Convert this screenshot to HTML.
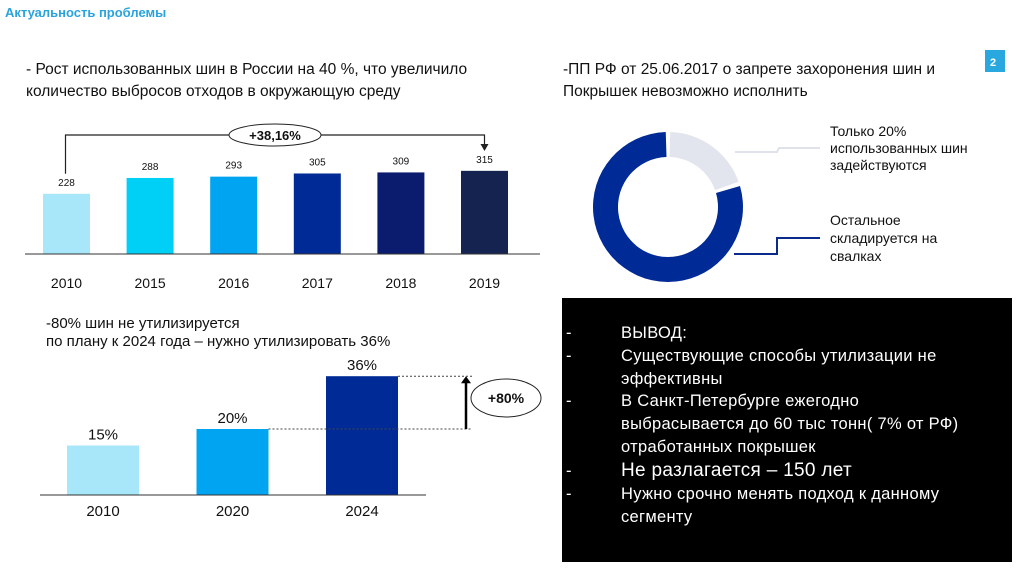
<!DOCTYPE html>
<html><head><meta charset="utf-8"><style>
html,body{margin:0;padding:0;background:#fff;}
svg{display:block;font-family:"Liberation Sans","DejaVu Sans",sans-serif;}
</style></head><body>
<svg id="s" width="1024" height="578" viewBox="0 0 1024 578" xmlns="http://www.w3.org/2000/svg">
<text x="5" y="17" font-size="13" font-weight="bold" fill="#2aa3dd">Актуальность проблемы</text>
<g font-size="15.5" fill="#111">
<text x="26" y="74">- Рост использованных шин в России на  40 %, что увеличило</text>
<text x="26" y="96">количество выбросов отходов в окружающую среду</text></g>
<g font-size="15.5" fill="#111">
<text x="563" y="74">-ПП РФ от 25.06.2017 о запрете захоронения шин и</text>
<text x="563" y="96">Покрышек невозможно исполнить</text></g>
<rect x="985" y="50" width="20" height="22" fill="#29a8e0"/>
<text x="990" y="66" font-size="11" font-weight="bold" fill="#fff">2</text>

<g id="top"></g>
<g id="donut"></g>
<g id="bot"></g>

<g font-size="14" fill="#111">
<text x="830" y="136">Только 20%</text><text x="830" y="153">использованных шин</text><text x="830" y="170">задействуются</text>
<text x="830" y="225">Остальное</text><text x="830" y="243">складируется на</text><text x="830" y="261">свалках</text></g>
<polyline points="735,152 777,152 779,148 820,148" fill="none" stroke="#dfe2ea" stroke-width="2"/>
<polyline points="734,254 777,254 777,238 820,238" fill="none" stroke="#0a2a8c" stroke-width="2"/>

<g font-size="15" fill="#111">
<text x="46" y="328">-80% шин не  утилизируется</text>
<text x="46" y="346">по плану к 2024 года – нужно утилизировать 36%</text></g>

<rect x="562" y="298" width="450" height="264" fill="#000"/>
<g fill="#fff" font-size="16.5" letter-spacing="0.3">
<text x="566" y="338">-</text><text x="621" y="338">ВЫВОД:</text>
<text x="566" y="361">-</text><text x="621" y="361">Существующие способы утилизации не</text>
<text x="621" y="384">эффективны</text>
<text x="566" y="406">-</text><text x="621" y="406">В Санкт-Петербурге ежегодно</text>
<text x="621" y="429">выбрасывается до 60 тыс тонн( 7% от РФ)</text>
<text x="621" y="452">отработанных покрышек</text>
<text x="566" y="476">-</text><text x="621" y="476" font-size="19">Не разлагается – 150 лет</text>
<text x="566" y="499">-</text><text x="621" y="499">Нужно срочно менять подход к данному</text>
<text x="621" y="522">сегменту</text></g>
</svg>
<script>
const topYears=["2010","2015","2016","2017","2018","2019"];
const topValues=[228,288,293,305,309,315];
const topColors=["#a8e6fa","#00d0f5","#00a4f0","#002a96","#0b1c6e","#142350"];
const botYears=["2010","2020","2024"];
const botValues=[15,20,36];
const botLabels=["15%","20%","36%"];
const botColors=["#a8e6fa","#00a4f0","#002a96"];
const donutValues=[20,80];
const donutColors=["#e3e5ee","#002a96"];
const NS="http://www.w3.org/2000/svg";
function mk(p,t,a){const e=document.createElementNS(NS,t);for(const k in a)e.setAttribute(k,a[k]);p.appendChild(e);return e;}
// top chart
const T=document.getElementById('top');
const tBase=254,tX=i=>43+i*83.6,tW=47,tY=v=>tBase-v*0.264;
topValues.forEach((v,i)=>{
 const r=mk(T,'rect',{x:tX(i),y:tY(v),width:tW,height:tBase-tY(v),fill:topColors[i]});
 
 
 const l=mk(T,'text',{x:tX(i)+tW/2,y:tY(v)-8,'font-size':10,'text-anchor':'middle',fill:'#111'});l.textContent=v;
 
 
 const y=mk(T,'text',{x:tX(i)+tW/2,y:288,'font-size':14,'text-anchor':'middle',fill:'#111'});y.textContent=topYears[i];
 
 
});
const ax=mk(T,'line',{x1:25,y1:tBase,x2:540,y2:tBase,stroke:'#333','stroke-width':1});


const fx=tX(0)+tW/2-1,lx=tX(5)+tW/2;
const br=mk(T,'polyline',{points:`${fx},${tY(topValues[0])-20} ${fx},135 ${lx},135 ${lx},145`,fill:'none',stroke:'#222','stroke-width':1.2});


const ah=mk(T,'polygon',{points:`${lx-4},144 ${lx+4},144 ${lx},151`,fill:'#222'});


const el=mk(T,'ellipse',{cx:275,cy:135,rx:46,ry:11,fill:'#fff',stroke:'#222','stroke-width':1});


const gt=mk(T,'text',{x:275,y:140,'font-size':13,'font-weight':'bold','text-anchor':'middle',fill:'#111'});gt.textContent='+38,16%';


// donut
const D=document.getElementById('donut');
const cx=668,cy=207,R=75,r0=50;let acc=0;const tot=donutValues.reduce((a,b)=>a+b,0);
function pt(rad,a){return [cx+rad*Math.sin(a),cy-rad*Math.cos(a)];}
donutValues.forEach((v,i)=>{
 const gap=0.03;const a0=acc/tot*2*Math.PI+gap,a1=(acc+v)/tot*2*Math.PI-gap;acc+=v;
 const big=a1-a0>Math.PI?1:0;const p1=pt(R,a0),p2=pt(R,a1),p3=pt(r0,a1),p4=pt(r0,a0);
 const p=mk(D,'path',{d:`M${p1} A${R},${R} 0 ${big} 1 ${p2} L${p3} A${r0},${r0} 0 ${big} 0 ${p4}Z`,fill:donutColors[i]});
 
 
});
// bottom chart
const B=document.getElementById('bot');
const bBase=495,bX=i=>67+i*129.5,bW=72,bY=v=>bBase-v*3.3;
botValues.forEach((v,i)=>{
 const r=mk(B,'rect',{x:bX(i),y:bY(v),width:bW,height:bBase-bY(v),fill:botColors[i]});
 
 
 const l=mk(B,'text',{x:bX(i)+bW/2,y:bY(v)-6,'font-size':15,'text-anchor':'middle',fill:'#111'});l.textContent=botLabels[i];
 
 
 const y=mk(B,'text',{x:bX(i)+bW/2,y:516,'font-size':15,'text-anchor':'middle',fill:'#111'});y.textContent=botYears[i];
 
 
});
const bx=mk(B,'line',{x1:40,y1:bBase,x2:426,y2:bBase,stroke:'#333','stroke-width':1});


const y1=bY(botValues[1]),y2=bY(botValues[2]);
const d1=mk(B,'line',{x1:bX(1)+bW,y1:y1,x2:472,y2:y1,stroke:'#444','stroke-dasharray':'2,2'});


const d2=mk(B,'line',{x1:bX(2)+bW,y1:y2,x2:472,y2:y2,stroke:'#444','stroke-dasharray':'2,2'});


const ar=mk(B,'line',{x1:466,y1:y1,x2:466,y2:y2+6,stroke:'#000','stroke-width':2.5});


const ah2=mk(B,'polygon',{points:`461,${y2+7} 471,${y2+7} 466,${y2}`,fill:'#000'});


const e2=mk(B,'ellipse',{cx:506,cy:398,rx:35,ry:19,fill:'#fff',stroke:'#222'});


const t2=mk(B,'text',{x:506,y:403,'font-size':14,'font-weight':'bold','text-anchor':'middle',fill:'#111'});t2.textContent='+80%';


</script>
</body></html>
